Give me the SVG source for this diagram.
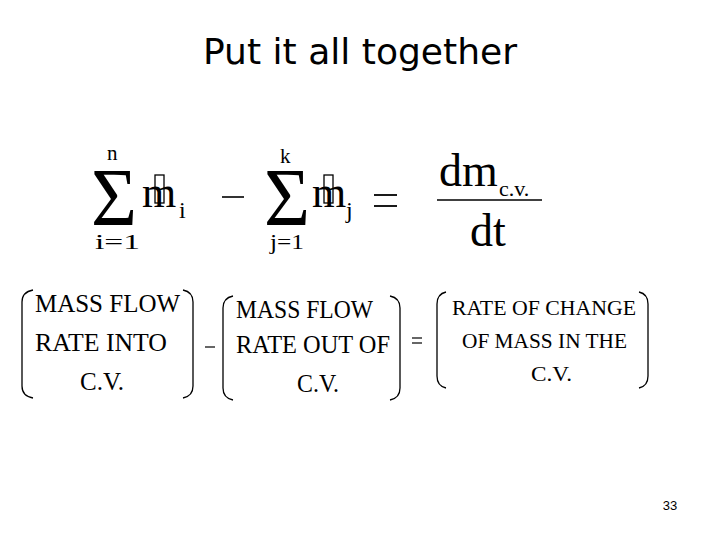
<svg xmlns="http://www.w3.org/2000/svg" width="720" height="540" viewBox="0 0 720 540">
<style>
.s{font-family:"Liberation Serif",serif;fill:#000}
.p{fill:none;stroke:#000;stroke-width:1.3}
</style>
<rect width="720" height="540" fill="#fff"/>
<text x="360" y="64" text-anchor="middle" font-family="DejaVu Sans,sans-serif" font-size="35" textLength="314" lengthAdjust="spacingAndGlyphs">Put it all together</text>
<g id="equation">
<text class="s" x="91" y="225" font-size="82" textLength="46" lengthAdjust="spacingAndGlyphs">Σ</text>
<text class="s" x="107" y="160" font-size="21">n</text>
<text class="s" x="95" y="249" font-size="21" textLength="45" lengthAdjust="spacingAndGlyphs">i=1</text>
<text class="s" x="142" y="207" font-size="44">m</text>
<rect x="155" y="175" width="9" height="28" fill="none" stroke="#000" stroke-width="1.3"/>
<text class="s" x="179" y="218" font-size="24">i</text>
<line x1="222" y1="197" x2="244" y2="197" stroke="#000" stroke-width="1.6"/>
<text class="s" x="264" y="225" font-size="82" textLength="46" lengthAdjust="spacingAndGlyphs">Σ</text>
<text class="s" x="280" y="163" font-size="21">k</text>
<text class="s" x="270" y="249" font-size="21" textLength="34" lengthAdjust="spacingAndGlyphs">j=1</text>
<text class="s" x="312" y="207" font-size="44">m</text>
<rect x="324" y="175" width="9" height="28" fill="none" stroke="#000" stroke-width="1.3"/>
<text class="s" x="346" y="218" font-size="24">j</text>
<line x1="374" y1="195" x2="397" y2="195" stroke="#000" stroke-width="1.8"/>
<line x1="374" y1="206" x2="397" y2="206" stroke="#000" stroke-width="1.8"/>
<text class="s" x="439" y="186" font-size="46">dm</text>
<text class="s" x="499" y="196" font-size="22">c.v.</text>
<line x1="437" y1="200" x2="542" y2="200" stroke="#000" stroke-width="1.5"/>
<text class="s" x="470" y="246" font-size="46">dt</text>
</g>
<g id="words">
<path class="p" d="M33 290 Q22 292 22 302 L22 386 Q22 396 33 398"/>
<path class="p" d="M183 290 Q193 292 193 302 L193 386 Q193 396 183 398"/>
<text class="s" x="35" y="312" font-size="25" textLength="145" lengthAdjust="spacingAndGlyphs">MASS FLOW</text>
<text class="s" x="35" y="351" font-size="25" textLength="132" lengthAdjust="spacingAndGlyphs">RATE INTO</text>
<text class="s" x="80" y="390" font-size="25" textLength="44" lengthAdjust="spacingAndGlyphs">C.V.</text>
<line x1="205" y1="347" x2="215" y2="347" stroke="#000" stroke-width="1.2"/>
<path class="p" d="M233 296 Q223 298 223 308 L223 388 Q223 398 233 400"/>
<path class="p" d="M390 296 Q400 298 400 308 L400 388 Q400 398 390 400"/>
<text class="s" x="236" y="318" font-size="25" textLength="137" lengthAdjust="spacingAndGlyphs">MASS FLOW</text>
<text class="s" x="236" y="353" font-size="25" textLength="154" lengthAdjust="spacingAndGlyphs">RATE OUT OF</text>
<text class="s" x="297" y="392" font-size="25" textLength="42" lengthAdjust="spacingAndGlyphs">C.V.</text>
<line x1="412" y1="338" x2="422" y2="338" stroke="#000" stroke-width="1.2"/>
<line x1="412" y1="343" x2="422" y2="343" stroke="#000" stroke-width="1.2"/>
<path class="p" d="M446 292 Q437 294 437 304 L437 376 Q437 386 446 388"/>
<path class="p" d="M639 292 Q648 294 648 304 L648 376 Q648 386 639 388"/>
<text class="s" x="452" y="315" font-size="21" textLength="184" lengthAdjust="spacingAndGlyphs">RATE OF CHANGE</text>
<text class="s" x="462" y="348" font-size="21" textLength="165" lengthAdjust="spacingAndGlyphs">OF MASS IN THE</text>
<text class="s" x="531" y="381" font-size="21" textLength="41" lengthAdjust="spacingAndGlyphs">C.V.</text>
</g>
<text x="670" y="510" text-anchor="middle" font-family="Liberation Sans,sans-serif" font-size="13">33</text>
</svg>
